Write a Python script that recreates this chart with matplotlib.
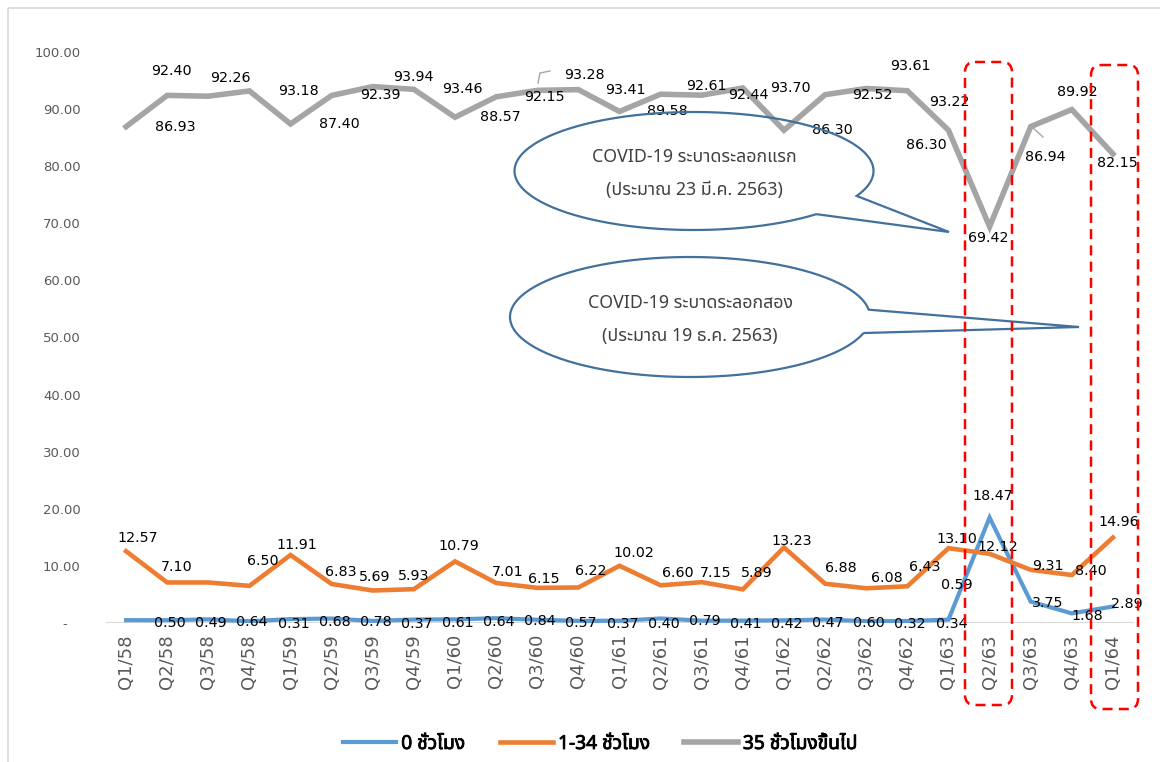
import matplotlib
matplotlib.use("Agg")
import matplotlib.pyplot as plt
from matplotlib import font_manager
from matplotlib import patheffects
from matplotlib.patches import FancyBboxPatch, PathPatch, Rectangle
from matplotlib.path import Path
from matplotlib.transforms import Affine2D
from matplotlib.lines import Line2D
import numpy as np

# data: share of employed persons by weekly working hours (%)
quarters = ["Q1/58", "Q2/58", "Q3/58", "Q4/58",
            "Q1/59", "Q2/59", "Q3/59", "Q4/59",
            "Q1/60", "Q2/60", "Q3/60", "Q4/60",
            "Q1/61", "Q2/61", "Q3/61", "Q4/61",
            "Q1/62", "Q2/62", "Q3/62", "Q4/62",
            "Q1/63", "Q2/63", "Q3/63", "Q4/63", "Q1/64"]
hours_0 = [0.50, 0.49, 0.64, 0.31, 0.68, 0.78, 0.37, 0.61, 0.64, 0.84, 0.57, 0.37,
           0.40, 0.79, 0.41, 0.42, 0.47, 0.60, 0.32, 0.34, 0.59, 18.47, 3.75, 1.68, 2.89]
hours_1_34 = [12.57, 7.10, 7.10, 6.50, 11.91, 6.83, 5.69, 5.93, 10.79, 7.01, 6.15, 6.22,
              10.02, 6.60, 7.15, 5.89, 13.23, 6.88, 6.08, 6.43, 13.10, 12.12, 9.31, 8.40, 14.96]
hours_35 = [86.93, 92.40, 92.26, 93.18, 87.40, 92.39, 93.94, 93.46, 88.57, 92.15, 93.28, 93.41,
            89.58, 92.61, 92.44, 93.70, 86.30, 92.52, 93.61, 93.22, 86.30, 69.42, 86.94, 89.92, 82.15]
series_names = ["0 ชั่วโมง", "1-34 ชั่วโมง", "35 ชั่วโมงขึ้นไป"]
colors = ["#5B9BD5", "#ED7D31", "#A5A5A5"]

# label offsets in pixels (dx, dy with y pointing down), copied from the original layout
off_0 = [(44, 3)] * 20 + [(8, -35), (3, -22), (17, 1), (15, 3), (14, -2)]
off_1_34 = [(12, -13), (10, -15), None, (13, -25), (6, -10), (9, -12), (2, -14), (0, -13),
            (4, -15), (12, -11), (7, -9), (12, -16), (14, -13), (17, -12), (14, -9), (14, -16),
            (8, -6), (16, -16), (21, -10), (17, -19), (8, -9), (8, -7), (17, -4), (19, -4), (6, -16)]
off_35 = [(49, 0), (4, -24), (22, -18), (49, 0), (49, 0), (49, 0), (41, -10), (48, 0),
          (45, 0), (48, 0), (47, -15), (47, 0), (48, 0), (46, -8), (47, 0), (48, 0),
          (48, 0), (47, 0), (44, -22), (42, 11), (-22, 15), (-1, 11), (15, 30), (5, -18), (4, 9)]


def find_thai_font():
    names = {f.name for f in font_manager.fontManager.ttflist}
    for n in ["Tahoma", "Noto Sans Thai", "Noto Sans Thai UI", "Sarabun", "Loma", "Garuda",
              "Waree", "Umpush", "Norasi", "Kinnari", "Noto Serif Thai", "FreeSans"]:
        if n in names:
            return n
    try:
        from fontTools.ttLib import TTFont
    except ImportError:
        return None
    for f in font_manager.fontManager.ttflist:
        try:
            tt = TTFont(f.fname, fontNumber=0, lazy=True)
            if 0x0E0A in tt.getBestCmap():
                return f.name
        except Exception:
            pass
    return None


thai = find_thai_font()
fam = [thai, "DejaVu Sans"] if thai else ["DejaVu Sans"]

W, H = 1160, 762
fig = plt.figure(figsize=(W / 100, H / 100), dpi=100)
# transform for layout items given in image pixels (y down)
px = Affine2D().scale(1 / W, -1 / H).translate(0, 1) + fig.transFigure

fig.patches.append(Rectangle((8, 8), 1200, 800, transform=px, fill=False,
                             ec="#D9D9D9", lw=1.2))

ax = fig.add_axes([105.5 / W, 1 - 623 / H, 1028 / W, 571 / H])
x = np.arange(len(quarters))
lines = []
for vals, c, lw in zip([hours_0, hours_1_34, hours_35], colors, [3.0, 3.3, 4.0]):
    ln, = ax.plot(x, vals, color=c, lw=lw, solid_joinstyle="miter", zorder=3)
    lines.append(ln)

ax.set_xlim(-0.5, len(quarters) - 0.5)
ax.set_ylim(0, 100)
for s in ax.spines.values():
    s.set_visible(False)
ax.axhline(0, color="#D9D9D9", lw=1.5, zorder=1)
ax.set_yticks(range(0, 101, 10))
ax.set_yticklabels(["-   " if v == 0 else f"{v:.2f}" for v in range(0, 101, 10)])
ax.tick_params(axis="y", length=0, pad=18, labelsize=9.5, labelcolor="#595959")
ax.set_xticks(x)
ax.set_xticklabels(quarters, rotation=90)
ax.tick_params(axis="x", length=0, pad=8, labelsize=13, labelcolor="#595959")


def put_labels(values, offsets):
    for i, v in enumerate(values):
        if offsets[i] is None:
            continue
        dx, dy = offsets[i]
        ax.annotate(f"{v:.2f}", (i, v), xytext=(dx, -dy), textcoords="offset pixels",
                    ha="center", va="center", fontsize=10.3, color="black", zorder=5)


put_labels(hours_0, off_0)
put_labels(hours_1_34, off_1_34)
put_labels(hours_35, off_35)

# small leader lines
for xs, ys in [([538, 540, 550], [83, 73, 71]), ([1031, 1043], [126, 137])]:
    fig.lines.append(Line2D(xs, ys, transform=px, color="#A6A6A6", lw=1))

# red dashed boxes around the two outbreak quarters
for x0, y0, x1, y1 in [(965, 62, 1012, 705), (1091, 65, 1138, 709)]:
    fig.patches.append(FancyBboxPatch((x0, y0), x1 - x0, y1 - y0,
                                      boxstyle="round,pad=0,rounding_size=10",
                                      transform=px, fill=False, ec="#FF0000", lw=1.8,
                                      ls=(0, (4, 2.5)), zorder=10))


def callout(cx, cy, a, b, t_from, t_to, tip, text_lines):
    t = np.radians(np.linspace(t_from, t_to, 200))
    pts = np.column_stack([cx + a * np.cos(t), cy + b * np.sin(t)])
    pts = np.vstack([pts, tip, pts[:1]])
    fig.patches.append(PathPatch(Path(pts), transform=px, fill=False, ec="#41719C",
                                 lw=1.6, zorder=8))
    for k, s in enumerate(text_lines):
        fig.text(cx, cy - 14 + 33 * k, s, transform=px, ha="center", va="center",
                 fontsize=12.8, color="#404040", family=fam, zorder=9)


callout(694, 171, 179.5, 59, 47, 385, (949, 232),
        ["COVID-19 ระบาดระลอกแรก", "(ประมาณ 23 มี.ค. 2563)"])
callout(690, 317, 180, 60, 15.5, 353, (1079, 327),
        ["COVID-19 ระบาดระลอกสอง", "(ประมาณ 19 ธ.ค. 2563)"])

leg = fig.legend(lines, series_names, loc="center", bbox_to_anchor=(600 / W, 1 - 744 / H),
                 ncol=3, frameon=False, handlelength=2.8, handletextpad=0.25,
                 columnspacing=1.8, prop={"family": fam, "weight": "bold", "size": 13.8})
for t in leg.get_texts():
    t.set_path_effects([patheffects.withStroke(linewidth=0.6, foreground="black")])

fig.savefig("out.png", dpi=100)
